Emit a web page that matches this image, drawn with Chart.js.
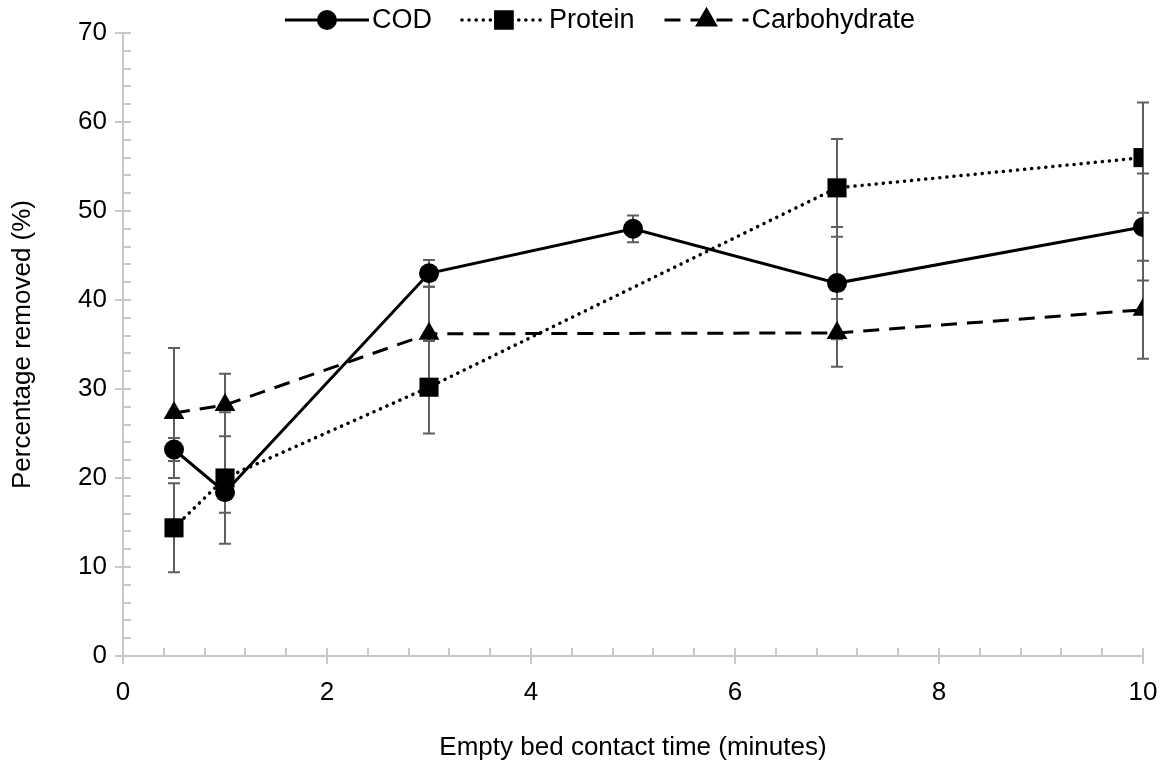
<!DOCTYPE html>
<html>
<head>
<meta charset="utf-8">
<script src="https://cdn.jsdelivr.net/npm/chart.js@4"></script>
<style>
  html, body { margin: 0; padding: 0; background: #fff; }
  #wrap { width: 1160px; height: 770px; }
</style>
</head>
<body>
<div id="wrap"><canvas id="grafica" width="1160" height="770"></canvas></div>
<script>
const FUENTE = '"Liberation Sans", Arial, sans-serif';

// tiempos de contacto (min)
const tiempos = [0.5, 1, 3, 5, 7, 10];

// porcentaje removido y desviación
const codValores = [23.2, 18.4, 43.0, 48.0, 41.9, 48.2];
const codError = [1.3, 2.3, 1.5, 1.5, 6.3, 6.0];

const proteinaValores = [14.4, 20.0, 30.2, null, 52.6, 56.0];
const proteinaError = [5.0, 7.4, 5.2, null, 5.5, 6.2];

const carboValores = [27.3, 28.2, 36.2, null, 36.3, 38.9];
const carboError = [7.3, 3.5, 5.3, null, 3.8, 5.5];

const ticksX = [0, 2, 4, 6, 8, 10];
const ticksY = [0, 10, 20, 30, 40, 50, 60, 70];

function armarPuntos(valores) {
    return tiempos.map((t, i) => ({ x: t, y: valores[i] }));
}

const erroresPorSerie = [codError, proteinaError, carboError];

// barras de error, debajo de los marcadores
const pluginErrores = {
    id: 'barrasError',
    beforeDatasetsDraw(chart) {
        const { ctx, scales: { x, y } } = chart;
        ctx.save();
        ctx.strokeStyle = '#5f5f5f';
        ctx.lineWidth = 2;
        chart.data.datasets.forEach((ds, k) => {
            const errs = erroresPorSerie[k];
            ds.data.forEach((p, i) => {
                if (p.y === null || errs[i] === null) return;
                const px = Math.round(x.getPixelForValue(p.x));
                const yArriba = y.getPixelForValue(p.y + errs[i]);
                const yAbajo = y.getPixelForValue(p.y - errs[i]);
                ctx.beginPath();
                ctx.moveTo(px, yArriba);
                ctx.lineTo(px, yAbajo);
                ctx.moveTo(px - 6, yArriba);
                ctx.lineTo(px + 6, yArriba);
                ctx.moveTo(px - 6, yAbajo);
                ctx.lineTo(px + 6, yAbajo);
                ctx.stroke();
            });
        });
        ctx.restore();
    }
};

// ejes con marcas mayores y menores
const pluginEjes = {
    id: 'ejes',
    beforeDatasetsDraw(chart) {
        const { ctx, chartArea: a, scales: { x, y } } = chart;
        ctx.save();
        ctx.strokeStyle = '#c8c8c8';
        ctx.lineWidth = 2;
        ctx.beginPath();
        ctx.moveTo(a.left, a.top);
        ctx.lineTo(a.left, a.bottom);
        ctx.lineTo(a.right, a.bottom);
        for (let v = 0; v <= 70; v += 2) {
            const py = Math.round(y.getPixelForValue(v));
            const mayor = v % 10 === 0;
            ctx.moveTo(mayor ? a.left - 8 : a.left, py);
            ctx.lineTo(a.left + 8, py);
        }
        for (let k = 0; k <= 25; k++) {
            const v = k * 0.4;
            const px = Math.round(x.getPixelForValue(v));
            const mayor = k % 5 === 0;
            ctx.moveTo(px, a.bottom - 8);
            ctx.lineTo(px, mayor ? a.bottom + 8 : a.bottom);
        }
        ctx.stroke();
        ctx.restore();
    }
};

// leyenda superior: línea con marcador y texto
const pluginLeyenda = {
    id: 'leyendaLinea',
    afterDraw(chart) {
        const { ctx } = chart;
        const largoLinea = 84;
        const separacion = 3;
        const entreItems = 30;
        const yCentro = 20;
        ctx.save();
        ctx.font = '27px ' + FUENTE;
        const items = chart.data.datasets.map(ds => ({ ds, ancho: largoLinea + separacion + ctx.measureText(ds.label).width }));
        const total = items.reduce((s, it) => s + it.ancho, 0) + entreItems * (items.length - 1);
        let cx = 600 - total / 2;
        items.forEach(({ ds, ancho }) => {
            ctx.strokeStyle = '#000';
            ctx.lineWidth = ds.borderWidth;
            ctx.lineCap = ds.borderCapStyle || 'butt';
            ctx.setLineDash(ds.borderDash || []);
            ctx.beginPath();
            ctx.moveTo(cx, yCentro);
            ctx.lineTo(cx + largoLinea, yCentro);
            ctx.stroke();
            ctx.setLineDash([]);
            Chart.helpers.drawPoint(ctx, {
                pointStyle: ds.pointStyle,
                radius: ds.pointRadius * 0.85,
                borderWidth: 1
            }, cx + largoLinea / 2, yCentro);
            ctx.fillStyle = '#000';
            ctx.fill();
            ctx.textBaseline = 'middle';
            ctx.textAlign = 'left';
            ctx.fillText(ds.label, cx + largoLinea + separacion, yCentro + 1);
            cx += ancho + entreItems;
        });
        ctx.restore();
    }
};

const ctx = document.getElementById('grafica');
new Chart(ctx, {
    type: 'line',
    data: {
        datasets: [
            {
                label: 'COD',
                data: armarPuntos(codValores),
                borderColor: '#000',
                backgroundColor: '#000',
                borderWidth: 3,
                pointStyle: 'circle',
                pointRadius: 10,
                pointBorderWidth: 0
            },
            {
                label: 'Protein',
                data: armarPuntos(proteinaValores),
                borderColor: '#000',
                backgroundColor: '#000',
                borderWidth: 3.5,
                borderDash: [0.1, 7],
                borderCapStyle: 'round',
                spanGaps: true,
                pointStyle: 'rect',
                pointRadius: 13.5,
                pointBorderWidth: 0
            },
            {
                label: 'Carbohydrate',
                data: armarPuntos(carboValores),
                borderColor: '#000',
                backgroundColor: '#000',
                borderWidth: 3,
                borderDash: [16, 10],
                spanGaps: true,
                pointStyle: 'triangle',
                pointRadius: 12,
                pointBorderWidth: 0
            }
        ]
    },
    options: {
        responsive: false,
        animation: false,
        layout: { padding: { left: 0, top: 33, right: 17, bottom: 0 } },
        plugins: {
            legend: { display: false },
            tooltip: { enabled: false }
        },
        scales: {
            x: {
                type: 'linear',
                min: 0,
                max: 10,
                afterBuildTicks: s => { s.ticks = ticksX.map(v => ({ value: v })); },
                afterFit: s => { s.height = 114; s.paddingLeft = 0; s.paddingRight = 0; },
                grid: { display: false, drawTicks: false },
                border: { display: false },
                ticks: { color: '#000', padding: 21, font: { family: FUENTE, size: 26 } },
                title: {
                    display: true,
                    text: 'Empty bed contact time (minutes)',
                    color: '#000',
                    font: { family: FUENTE, size: 26 },
                    padding: { top: 0, bottom: 7 }
                }
            },
            y: {
                min: 0,
                max: 70,
                afterBuildTicks: s => { s.ticks = ticksY.map(v => ({ value: v })); },
                afterFit: s => { s.width = 123; s.paddingTop = 0; s.paddingBottom = 0; },
                grid: { display: false, drawTicks: false },
                border: { display: false },
                ticks: { color: '#000', padding: 16, font: { family: FUENTE, size: 26 } },
                title: {
                    display: true,
                    text: 'Percentage removed (%)',
                    color: '#000',
                    font: { family: FUENTE, size: 26 },
                    padding: { top: 7, bottom: 0 }
                }
            }
        }
    },
    plugins: [pluginEjes, pluginErrores, pluginLeyenda]
});
</script>
</body>
</html>
